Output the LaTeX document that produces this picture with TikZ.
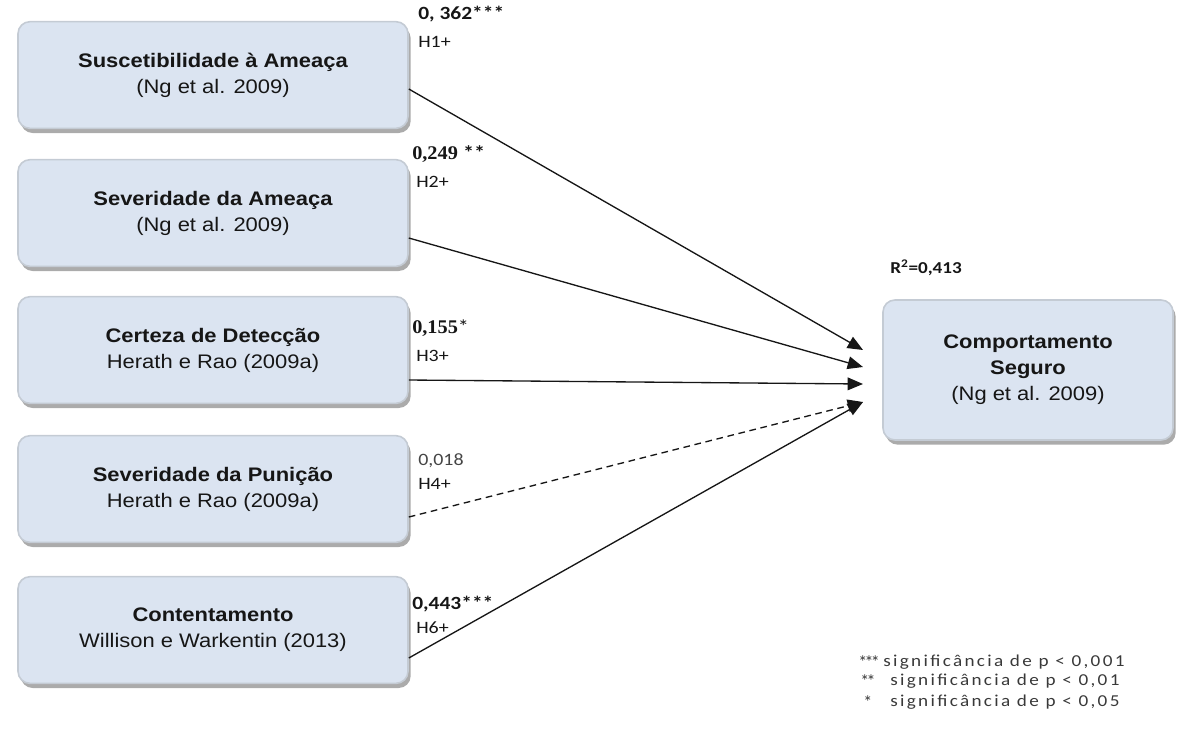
\documentclass[tikz,border=0pt]{standalone}
\usepackage{fontspec}
\setmainfont{Liberation Sans}
\newfontfamily\boxfont[FakeStretch=1.12]{Liberation Sans}
\newfontfamily\labfont[FakeStretch=1.15]{Carlito}
\newfontfamily\starfont{Carlito}
\newfontfamily\legfont[FakeStretch=1.15,LetterSpace=14]{Carlito}
\newfontfamily\serfont[FakeStretch=1.05]{Liberation Serif}
\usetikzlibrary{arrows.meta,shadows}
\definecolor{boxfill}{RGB}{219,228,241}
\definecolor{boxrim}{RGB}{196,203,212}
\definecolor{ink}{RGB}{22,22,22}
\newcommand{\tightstars}[1]{\ifcase#1\or*\or*\kern-2pt*\or*\kern-2pt*\kern-2pt*\fi}
\begin{document}
\begin{tikzpicture}[x=0.75pt,y=-0.75pt,
  construct/.style={draw=boxrim, line width=1.2pt, fill=boxfill, rounded corners=9pt,
    minimum width=292.5pt, minimum height=80pt, align=center, text=ink,
    font=\boxfont\fontsize{14.7}{19.5}\selectfont,
    drop shadow={shadow xshift=2pt, shadow yshift=-3.5pt, fill=black!55, opacity=0.6}},
  link/.style={draw=ink, line width=1pt, -{Triangle[length=11.5pt,width=9.5pt]}},
  weak/.style={link, dash pattern=on 5pt off 3.5pt},
  coef/.style={anchor=west, inner sep=0pt, text=ink, font=\labfont\bfseries\fontsize{14}{16}\selectfont},
  coefser/.style={anchor=west, inner sep=0pt, text=ink, font=\serfont\bfseries\fontsize{14.5}{16}\selectfont},
  hyp/.style={anchor=west, inner sep=0pt, text=ink, font=\labfont\fontsize{13}{15}\selectfont},
  legend/.style={anchor=west, inner sep=0pt, text=ink!85, font=\legfont\fontsize{12.5}{14}\selectfont},
  legstar/.style={anchor=west, inner sep=0pt, text=ink!85, font=\starfont\fontsize{13.5}{14}\selectfont}
]
\useasboundingbox (0,0) rectangle (1178,736);

% predictor constructs
\node[construct] (b1) at (213,75)  {{\bfseries Suscetibilidade à Ameaça}\\(Ng et al. 2009)};
\node[construct] (b2) at (213,213) {{\bfseries Severidade da Ameaça}\\(Ng et al. 2009)};
\node[construct] (b3) at (213,350) {{\bfseries Certeza de Detecção}\\Herath e Rao (2009a)};
\node[construct] (b4) at (213,489) {{\bfseries Severidade da Punição}\\Herath e Rao (2009a)};
\node[construct] (b5) at (213,630) {{\bfseries Contentamento}\\Willison e Warkentin (2013)};

% dependent construct
\node[construct, minimum width=217.5pt, minimum height=105pt] (cs) at (1028,370)
  {{\bfseries Comportamento}\\{\bfseries Seguro}\\(Ng et al. 2009)};
\node[coef, font=\labfont\bfseries\fontsize{12.5}{14}\selectfont] (r2) at (890,268) {R\textsuperscript{2}=0,413};

% arrow tips in front of the dependent construct
\coordinate (t1) at (863,350);
\coordinate (t2) at (863,367);
\coordinate (t3) at (863,384);
\coordinate (t4) at (863,402);

% structural paths
\draw[link] ([yshift=-10.5pt]b1.east) -- (t1);
\draw[link] ([yshift=-18.75pt]b2.east) -- (t2);
\draw[link] ([yshift=-22.5pt]b3.east) -- (t3);
\draw[weak] ([yshift=-21pt]b4.east) -- (t4);
\draw[link] ([yshift=-21pt]b5.east) -- (t4);

% path coefficients and hypotheses
\node[coef]    (c1) at (418,14)  {0, 362***};
\node[hyp]     (h1) at (418,42)  {H1+};
\node[coefser] (c2) at (412,154) {0,249 {\labfont**}};
\node[hyp]     (h2) at (416,182) {H2+};
\node[coefser] (c3) at (412,328) {0,155{\labfont\mdseries*}};
\node[hyp]     (h3) at (416,356) {H3+};
\node[hyp, text=ink!80] (c4) at (418,461) {0,018};
\node[hyp]     (h4) at (418,484) {H4+};
\node[coef]    (c5) at (412,604) {0,443***};
\node[hyp]     (h5) at (416,628) {H6+};

% significance legend
\node[legstar] (s1) at (858,662) {\tightstars{3}};
\node[legend]  (g1) at (883,662) {significância de p < 0,001};
\node[legstar] (s2) at (860,681) {\tightstars{2}};
\node[legend]  (g2) at (890,681) {significância de p < 0,01};
\node[legstar] (s3) at (863,702) {\tightstars{1}};
\node[legend]  (g3) at (890,702) {significância de p < 0,05};
\end{tikzpicture}
\end{document}
